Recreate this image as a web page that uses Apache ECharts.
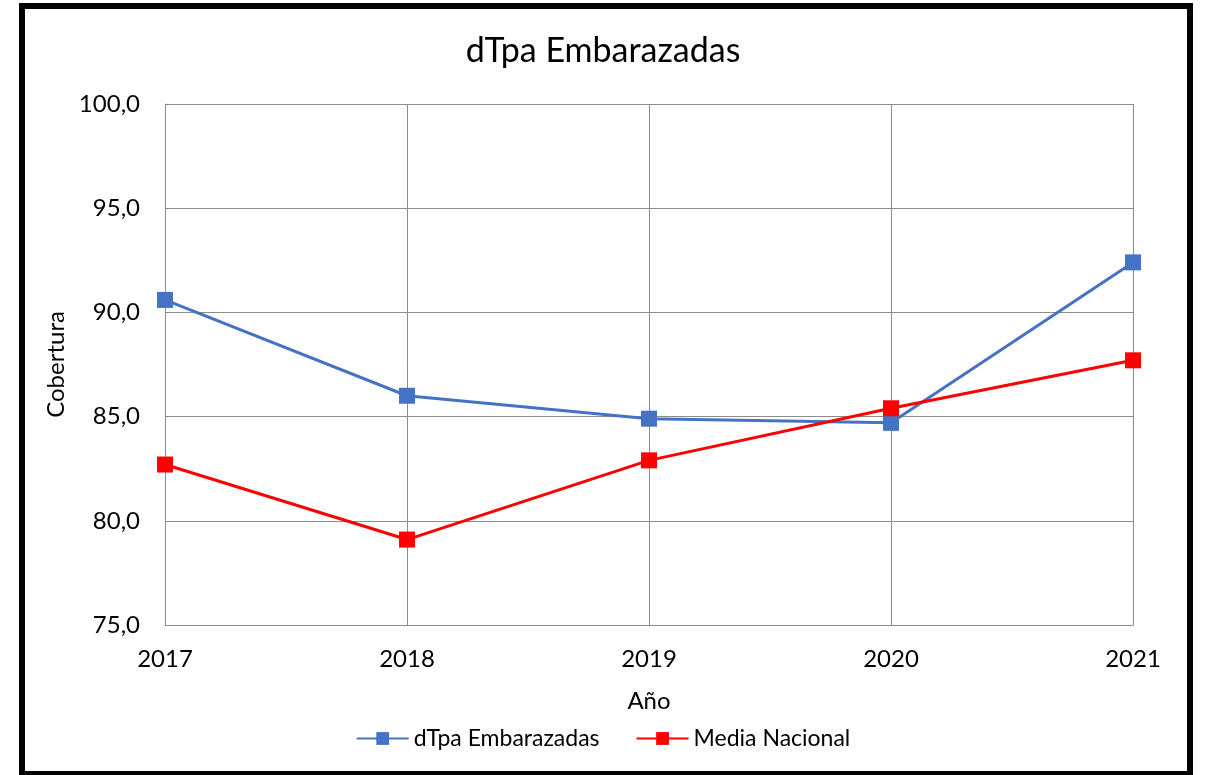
<!DOCTYPE html>
<html>
<head>
<meta charset="utf-8">
<title>dTpa Embarazadas</title>
<script src="https://cdn.jsdelivr.net/npm/echarts@6/dist/echarts.min.js"></script>
<style>
  html, body { margin: 0; padding: 0; background: #fff; overflow: hidden; }
  #frame {
    position: absolute; left: 19px; top: 3px; width: 1174px; height: 774px;
    border: 6px solid #000; box-sizing: border-box;
  }
  #chart { position: absolute; left: 0; top: 0; width: 1206px; height: 775px; }
</style>
</head>
<body>
<div id="chart"></div>
<div id="frame"></div>
<script>
const years = ['2017', '2018', '2019', '2020', '2021']
const dtpaValues = [90.6, 86.0, 84.9, 84.7, 92.4]
const mediaValues = [82.7, 79.1, 82.9, 85.4, 87.7]

const font = 'Lato, "Noto Sans", sans-serif'
const gridColor = '#8c8c8c'

const chart = echarts.init(document.getElementById('chart'))

const option = {
  animation: false,
  textStyle: { fontFamily: font, color: '#000' },
  title: {
    text: 'dTpa Embarazadas',
    left: 'center',
    top: 29,
    textStyle: { fontFamily: font, fontSize: 34, fontWeight: 'normal', color: '#000' },
  },
  legend: {
    bottom: 20,
    left: 'center',
    itemWidth: 52,
    itemHeight: 16,
    itemGap: 36,
    textStyle: { fontFamily: font, fontSize: 23, color: '#000' },
    data: ['dTpa Embarazadas', 'Media Nacional'],
  },
  grid: { left: 165, right: 73, top: 104, bottom: 150 },
  xAxis: {
    type: 'category',
    data: years,
    boundaryGap: false,
    name: 'Año',
    nameLocation: 'middle',
    nameGap: 64,
    nameTextStyle: { fontFamily: font, fontSize: 24, color: '#000' },
    axisLine: { lineStyle: { color: gridColor, width: 1 } },
    axisTick: { show: false },
    axisLabel: { fontSize: 24, color: '#000', margin: 22 },
    splitLine: { show: true, lineStyle: { color: gridColor, width: 1 } },
  },
  yAxis: {
    type: 'value',
    min: 75,
    max: 100,
    interval: 5,
    name: 'Cobertura',
    nameLocation: 'middle',
    nameGap: 97,
    nameTextStyle: { fontFamily: font, fontSize: 24, color: '#000' },
    axisLine: { show: true, lineStyle: { color: gridColor, width: 1 } },
    axisTick: { show: false },
    axisLabel: {
      fontSize: 24,
      color: '#000',
      margin: 25,
      formatter: (v) => v.toFixed(1).replace('.', ','),
    },
    splitLine: { show: true, lineStyle: { color: gridColor, width: 1 } },
  },
  series: [
    {
      name: 'dTpa Embarazadas',
      type: 'line',
      data: dtpaValues,
      symbol: 'rect',
      symbolSize: 16,
      lineStyle: { color: '#4472C4', width: 3 },
      itemStyle: { color: '#4472C4' },
    },
    {
      name: 'Media Nacional',
      type: 'line',
      data: mediaValues,
      symbol: 'rect',
      symbolSize: 16,
      lineStyle: { color: '#FF0000', width: 3 },
      itemStyle: { color: '#FF0000' },
    },
  ],
}

chart.setOption(option)
</script>
</body>
</html>
